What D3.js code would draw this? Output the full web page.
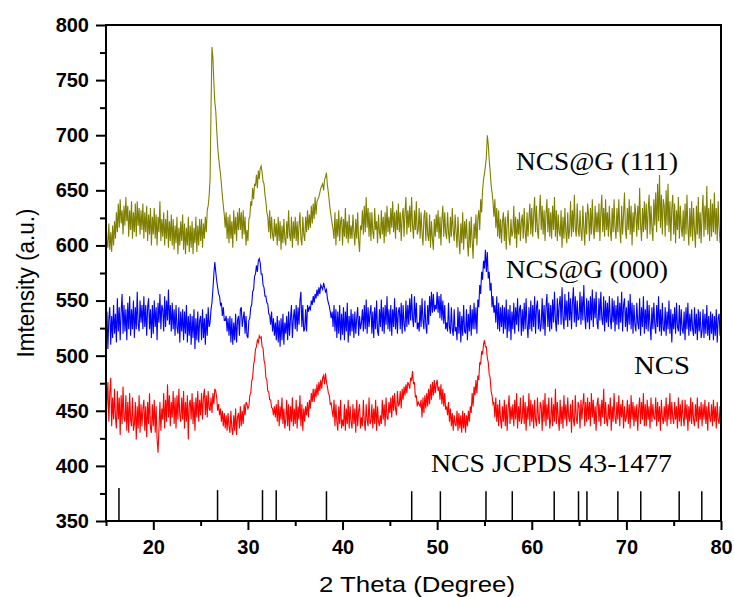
<!DOCTYPE html>
<html><head><meta charset="utf-8">
<script src="https://cdn.jsdelivr.net/npm/d3@7"></script>
<style>
html,body{margin:0;padding:0;background:#fff;}
svg{display:block;}
</style></head>
<body><svg id="chart" width="734" height="597"></svg>
<script>
// 2-theta grid: 15.0 to 80.0 in 0.1 degree steps
const thetaStart = 15, thetaStep = 0.1;

const ncsG111 = [
625,604,598,620,596,612,594,618,600,622,
606,630,612,638,616,642,620,632,610,636,
618,644,622,636,608,632,614,640,606,630,
612,638,608,640,618,634,610,632,614,638,
606,630,612,636,604,628,610,634,600,626,
610,634,606,628,600,626,612,640,604,624,
608,630,600,624,606,632,598,622,604,628,
600,624,596,618,602,626,592,616,600,622,
604,628,596,620,592,616,600,626,594,618,
598,622,592,616,602,626,594,618,600,624,
604,624,598,620,606,626,612,632,636,645,
660,725,780,770,748,730,722,705,690,680,
672,665,655,645,636,628,616,630,606,626,
602,628,606,622,598,632,610,626,604,630,
614,634,614,630,606,632,610,626,600,614,
604,624,626,640,636,652,642,656,654,664,
652,668,660,670,672,666,658,656,646,640,
630,626,612,632,606,626,610,604,624,608,
620,600,626,604,622,596,618,602,624,606,
600,622,606,632,610,604,626,598,622,606,
626,604,622,600,618,630,606,600,626,610,
604,626,612,632,614,628,616,636,620,638,
624,644,628,640,642,644,648,652,654,656,
650,660,662,666,655,648,640,632,626,620,
614,606,630,600,624,608,632,604,622,626,
600,624,608,634,606,622,602,628,606,618,
606,628,612,600,624,606,630,604,594,618,
614,632,610,636,612,644,616,634,608,630,
604,630,612,606,634,614,622,602,628,612,
606,632,610,626,602,630,608,636,612,626,
610,634,616,640,612,630,606,632,614,638,
612,630,604,626,634,608,630,644,610,632,
616,636,612,644,618,606,632,614,640,610,
614,634,606,630,612,600,626,632,604,630,
610,604,628,598,622,606,596,624,608,628,
612,632,606,626,600,624,636,608,630,612,
606,630,612,602,626,608,634,614,604,628,
612,598,626,606,592,620,602,630,596,622,
606,624,602,590,622,598,626,604,588,620,
606,628,600,624,632,614,642,630,650,660,
665,672,680,700,692,678,668,655,648,640,
626,642,616,634,608,632,606,624,602,622,
630,604,626,596,620,632,606,600,624,608,
612,636,606,626,598,624,610,630,604,622,
628,606,634,612,602,630,608,624,638,610,
634,608,628,644,612,636,614,606,630,646,
614,636,610,632,604,628,642,612,634,608,
630,606,636,614,644,608,632,604,628,612,
608,632,598,626,606,634,612,602,630,606,
614,640,608,632,612,646,616,608,638,614,
608,632,612,604,636,616,600,630,610,638,
628,604,634,610,642,614,606,636,612,630,
612,638,604,630,646,612,634,608,642,614,
630,608,636,614,604,634,612,642,616,606,
634,612,642,616,602,636,610,628,648,614,
606,634,614,642,610,636,600,630,612,638,
628,608,636,614,652,618,604,634,612,640,
614,638,606,632,646,610,636,616,604,642,
618,648,612,656,622,664,616,646,610,642,
636,608,650,618,656,612,640,604,634,646,
610,638,602,632,614,644,606,636,616,608,
632,604,638,610,646,616,600,634,608,640,
604,634,614,598,636,610,644,606,630,602,
628,646,608,636,614,654,610,634,604,642,
608,638,612,648,610,634,604,640,616,602,
616];

const ncsG000 = [
514,540,506,534,544,510,536,516,546,520,
538,512,552,522,544,514,540,556,520,546,
522,542,514,548,524,554,518,542,524,550,
516,544,524,558,528,522,550,530,546,524,
554,526,546,518,544,552,524,542,516,546,
520,550,526,544,514,548,530,556,524,546,
542,522,554,526,550,532,560,528,546,522,
548,524,542,518,546,526,520,544,512,540,
522,542,514,540,520,546,512,536,518,538,
510,536,516,542,506,534,514,540,512,532,
536,514,542,516,534,510,538,518,544,526,
530,542,548,560,574,585,576,568,562,556,
554,546,548,536,544,532,532,536,522,534,
518,536,512,534,510,530,514,538,512,532,
536,518,542,544,526,534,540,520,536,518,
516,532,534,544,546,558,560,572,574,582,
576,586,588,584,574,574,564,562,554,554,
548,547,538,537,528,540,522,534,518,530,
514,536,512,532,508,534,514,538,510,530,
520,536,514,540,518,534,546,516,534,542,
524,546,522,544,528,550,558,526,546,522,
524,542,522,546,540,544,542,550,546,554,
548,556,552,560,554,562,556,564,562,560,
566,562,558,560,552,548,545,540,534,540,
526,546,522,542,516,540,520,546,514,538,
519,544,514,540,522,548,512,536,518,542,
522,538,516,540,520,534,544,518,536,524,
530,542,522,546,524,551,520,544,526,538,
546,520,540,516,544,524,550,522,518,542,
526,551,522,544,520,546,528,554,524,542,
522,546,518,542,526,552,524,544,520,540,
544,524,548,520,546,528,522,550,526,546,
528,552,532,556,534,526,554,530,548,524,
530,522,546,526,552,532,524,550,528,520,
546,528,554,536,558,539,556,540,546,542,
558,539,554,534,556,532,550,529,546,524,
530,522,548,526,520,544,524,518,542,522,
526,514,544,520,540,512,536,518,546,522,
520,542,514,538,522,546,518,542,524,548,
524,544,520,551,544,564,556,576,569,586,
579,596,576,594,570,576,559,566,544,554,
539,546,530,554,524,548,522,544,526,546,
520,544,524,551,516,542,522,546,514,540,
524,548,520,544,528,552,522,542,546,518,
542,522,548,524,552,528,516,544,524,550,
522,546,526,554,520,544,550,524,542,522,
528,552,524,546,518,544,556,526,548,522,
546,524,551,530,558,532,522,552,528,546,
554,528,562,534,524,556,532,550,526,558,
532,552,524,548,562,530,554,526,550,532,
534,558,528,554,532,564,536,524,552,530,
550,524,554,532,560,526,552,534,558,530,
524,552,532,558,534,528,554,522,550,530,
548,526,554,534,524,552,530,550,522,546,
528,554,524,548,530,558,522,546,552,526,
544,522,550,528,556,524,548,520,546,528,
522,548,530,524,552,518,544,526,554,520,
542,524,550,522,546,528,514,544,524,548,
528,520,546,526,554,522,542,518,548,524,
522,544,518,540,524,550,520,542,512,538,
524,544,520,548,526,522,546,518,542,524,
520,540,514,544,524,548,518,538,522,542,
524,518,544,520,538,514,542,522,540,516,
522,542,516,538,520,546,518,536,514,540,
520,538,514,536,518,542,512,534,538,518,
530];

const ncs = [
432,458,476,440,466,480,436,462,442,470,
444,434,468,442,462,428,464,438,472,444,
440,464,432,458,430,466,442,436,462,432,
438,458,424,454,434,464,430,456,436,452,
460,432,454,426,458,438,466,434,430,456,
436,460,430,454,424,412,434,458,432,452,
442,466,434,460,440,474,444,464,436,458,
444,468,438,462,434,464,442,470,446,440,
462,442,468,434,458,440,464,424,456,460,
442,466,438,458,432,462,444,468,440,460,
446,466,442,462,470,446,464,444,468,452,
450,462,448,466,456,470,468,462,450,456,
446,452,440,450,436,448,434,446,432,448,
436,430,450,434,428,446,432,452,428,444,
448,434,454,436,450,438,456,446,458,456,
452,454,464,466,477,480,492,496,506,508,
514,512,518,516,517,508,507,496,492,480,
478,468,467,460,460,453,452,446,454,444,
456,440,460,436,454,442,462,438,452,434,
442,460,436,456,432,454,440,462,436,452,
438,460,434,454,442,464,436,456,432,452,
440,454,446,458,444,460,452,466,458,470,
458,470,462,474,464,476,468,478,470,480,
482,474,484,476,472,466,464,456,457,450,
444,460,436,456,440,432,454,438,460,434,
442,436,456,432,452,438,460,434,454,440,
434,456,438,452,430,460,436,450,456,434,
444,436,460,440,432,456,442,436,462,438,
440,456,434,452,438,460,432,454,440,436,
446,438,460,442,456,436,462,444,442,458,
448,462,444,464,450,466,452,446,468,454,
456,468,452,470,460,472,464,474,466,476,
474,470,480,478,486,474,476,462,464,454,
458,456,454,460,444,462,448,464,452,466,
454,470,456,474,460,476,464,478,466,474,
478,468,472,460,474,456,470,454,466,451,
454,446,458,440,452,436,448,432,446,438,
436,450,432,448,434,446,430,450,434,448,
430,446,436,450,440,454,448,466,454,472,
464,478,466,482,478,494,492,504,501,510,
514,508,508,498,494,483,480,468,464,456,
458,444,462,440,456,436,460,442,434,454,
440,460,436,456,432,452,464,438,454,442,
456,436,460,442,466,434,454,440,462,438,
444,464,438,458,432,454,442,466,436,460,
440,456,434,460,442,436,462,444,438,458,
454,432,460,440,466,436,456,442,462,434,
442,462,436,456,440,470,438,458,444,432,
460,438,454,434,464,442,456,436,462,444,
440,456,430,460,442,436,464,444,438,458,
454,434,460,442,456,466,436,458,440,462,
442,458,436,466,444,460,438,454,432,456,
462,440,456,436,460,444,470,438,458,442,
436,456,442,462,432,454,440,466,444,438,
458,442,464,436,456,444,460,434,454,440,
444,460,438,456,434,464,442,458,436,454,
440,456,432,452,462,438,458,442,466,436,
456,436,460,442,454,434,462,440,456,444,
442,462,436,458,440,454,432,460,444,438,
454,440,462,436,456,442,466,438,458,444,
438,458,442,454,434,462,440,456,436,460,
444,436,460,442,456,432,454,440,462,438,
458,442,436,456,440,462,434,454,442,458,
436,456,442,460,438,454,432,458,444,440,
456,436,460,440,454,434,458,442,438,454,
444];

// JCPDS 43-1477 reference peaks
const jcpdsPos = [16.37, 26.79, 31.54, 32.99, 38.3, 47.31, 50.34, 55.16, 57.94, 62.37, 64.94, 65.83, 69.1, 71.52, 75.58, 77.97];
const jcpdsInt = [380, 378, 378, 378, 377, 377, 377, 377, 377, 377, 377, 377, 377, 377, 377, 377];

const xMajorTicks = [20, 30, 40, 50, 60, 70, 80];
const xMinorTicks = [15, 25, 35, 45, 55, 65, 75];
const yMajorTicks = [350, 400, 450, 500, 550, 600, 650, 700, 750, 800];
const yMinorTicks = [375, 425, 475, 525, 575, 625, 675, 725, 775];

const seriesNames = ["NCS@G (111)", "NCS@G (000)", "NCS"];
const seriesColors = ["#808000", "#0000ff", "#ff0000"];
const seriesData = [ncsG111, ncsG000, ncs];
const refLabel = "NCS JCPDS 43-1477";

const svg = d3.select("#chart");
const L = 106, R = 721, T = 25, B = 521;
const x = d3.scaleLinear().domain([15, 80]).range([L, R]);
const y = d3.scaleLinear().domain([350, 800]).range([B, T]);

// series lines
const line = d3.line().x((d, i) => x(thetaStart + i * thetaStep)).y(d => y(d));
seriesData.forEach((arr, k) => {
  svg.append("path").datum(arr).attr("d", line)
    .attr("fill", "none").attr("stroke", seriesColors[k]).attr("stroke-width", 1.1);
});

// JCPDS sticks
svg.append("g").selectAll("line").data(jcpdsPos).join("line")
  .attr("x1", d => x(d)).attr("x2", d => x(d))
  .attr("y1", y(350)).attr("y2", (d, i) => y(jcpdsInt[i]))
  .attr("stroke", "#000").attr("stroke-width", 1.5);

// axes
const axStyle = g => {
  g.selectAll(".domain").remove();
  g.selectAll(".tick line").attr("stroke", "#000").attr("stroke-width", 2);
  g.selectAll(".tick text").attr("fill", "#000")
    .style("font-family", "'Liberation Sans', Arial, sans-serif")
    .style("font-weight", "bold").style("font-size", "20px");
};
svg.append("g").attr("transform", `translate(${L},0)`)
  .call(d3.axisLeft(y).tickValues(yMinorTicks).tickSize(6).tickFormat(""))
  .call(axStyle);
svg.append("g").attr("transform", `translate(${L},0)`)
  .call(d3.axisLeft(y).tickValues(yMajorTicks).tickSize(10).tickPadding(7).tickFormat(d3.format("d")))
  .call(axStyle);
svg.append("g").attr("transform", `translate(0,${B})`)
  .call(d3.axisBottom(x).tickValues(xMinorTicks).tickSize(5).tickFormat(""))
  .call(axStyle);
svg.append("g").attr("transform", `translate(0,${B})`)
  .call(d3.axisBottom(x).tickValues(xMajorTicks).tickSize(9).tickPadding(10).tickFormat(d3.format("d")))
  .call(axStyle);

// frame
svg.append("rect").attr("x", L).attr("y", T).attr("width", R - L).attr("height", B - T)
  .attr("fill", "none").attr("stroke", "#000").attr("stroke-width", 2);

// axis titles
svg.append("text").attr("x", 417).attr("y", 592).attr("text-anchor", "middle")
  .attr("textLength", 196).attr("lengthAdjust", "spacingAndGlyphs")
  .style("font-family", "'Liberation Sans', Arial, sans-serif").style("font-size", "22px")
  .text("2 Theta (Degree)");
svg.append("text").attr("transform", "translate(34,283) rotate(-90)").attr("text-anchor", "middle")
  .attr("textLength", 149).attr("lengthAdjust", "spacingAndGlyphs")
  .style("font-family", "'Liberation Sans', Arial, sans-serif").style("font-size", "23px")
  .text("Imtensity (a.u.)");

// annotations
const ann = [
  {t: seriesNames[0], x: 516, y: 170, w: 162},
  {t: seriesNames[1], x: 506, y: 278, w: 162},
  {t: seriesNames[2], x: 634, y: 374, w: 56},
  {t: refLabel, x: 431, y: 472, w: 241}
];
svg.append("g").selectAll("text").data(ann).join("text")
  .attr("x", d => d.x).attr("y", d => d.y)
  .attr("textLength", d => d.w).attr("lengthAdjust", "spacingAndGlyphs")
  .style("font-family", "'Liberation Serif', 'Times New Roman', serif").style("font-size", "26px")
  .attr("fill", "#000").text(d => d.t);
</script>
</body></html>
